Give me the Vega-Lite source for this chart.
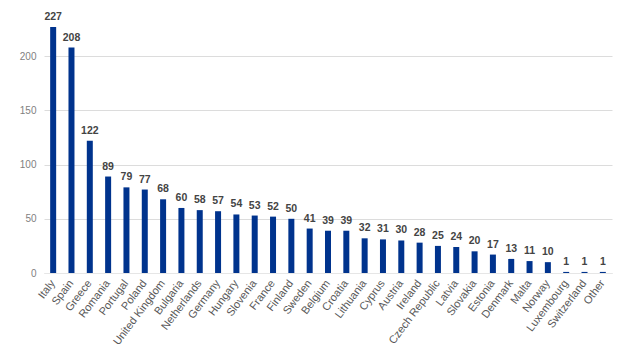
{
  "$schema": "https://vega.github.io/schema/vega-lite/v6.json",
  "autosize": "none",
  "padding": {"left": 44, "top": 2, "right": 20, "bottom": 82},
  "width": 568,
  "height": 271,
  "background": "white",
  "config": {"view": {"stroke": null}},
  "data": {"values": [
    {"country": "Italy", "count": 227},
    {"country": "Spain", "count": 208},
    {"country": "Greece", "count": 122},
    {"country": "Romania", "count": 89},
    {"country": "Portugal", "count": 79},
    {"country": "Poland", "count": 77},
    {"country": "United Kingdom", "count": 68},
    {"country": "Bulgaria", "count": 60},
    {"country": "Netherlands", "count": 58},
    {"country": "Germany", "count": 57},
    {"country": "Hungary", "count": 54},
    {"country": "Slovenia", "count": 53},
    {"country": "France", "count": 52},
    {"country": "Finland", "count": 50},
    {"country": "Sweden", "count": 41},
    {"country": "Belgium", "count": 39},
    {"country": "Croatia", "count": 39},
    {"country": "Lithuania", "count": 32},
    {"country": "Cyprus", "count": 31},
    {"country": "Austria", "count": 30},
    {"country": "Ireland", "count": 28},
    {"country": "Czech Republic", "count": 25},
    {"country": "Latvia", "count": 24},
    {"country": "Slovakia", "count": 20},
    {"country": "Estonia", "count": 17},
    {"country": "Denmark", "count": 13},
    {"country": "Malta", "count": 11},
    {"country": "Norway", "count": 10},
    {"country": "Luxembourg", "count": 1},
    {"country": "Switzerland", "count": 1},
    {"country": "Other", "count": 1}
  ]},
  "encoding": {
    "x": {"field": "country", "type": "nominal", "sort": null,
      "axis": {"title": null, "labelAngle": -53, "labelFont": "Liberation Sans", "labelFontSize": 11, "labelColor": "#595959", "ticks": false, "domainColor": "#e6e6e6", "labelPadding": 8}},
    "y": {"field": "count", "type": "quantitative", "scale": {"domain": [0, 250], "nice": false},
      "axis": {"title": null, "values": [0, 50, 100, 150, 200], "labelFont": "Liberation Sans", "labelFontSize": 10, "labelColor": "#7f7f7f", "ticks": false, "domain": false, "gridColor": "#dcdcdc", "labelPadding": 8}}
  },
  "layer": [
    {"mark": {"type": "bar", "color": "#00338d", "width": 6}},
    {"mark": {"type": "text", "dy": -10, "font": "Liberation Sans", "fontSize": 10.5, "fontWeight": "bold", "color": "#444444"},
      "encoding": {"text": {"field": "count", "type": "quantitative"}}}
  ]
}
